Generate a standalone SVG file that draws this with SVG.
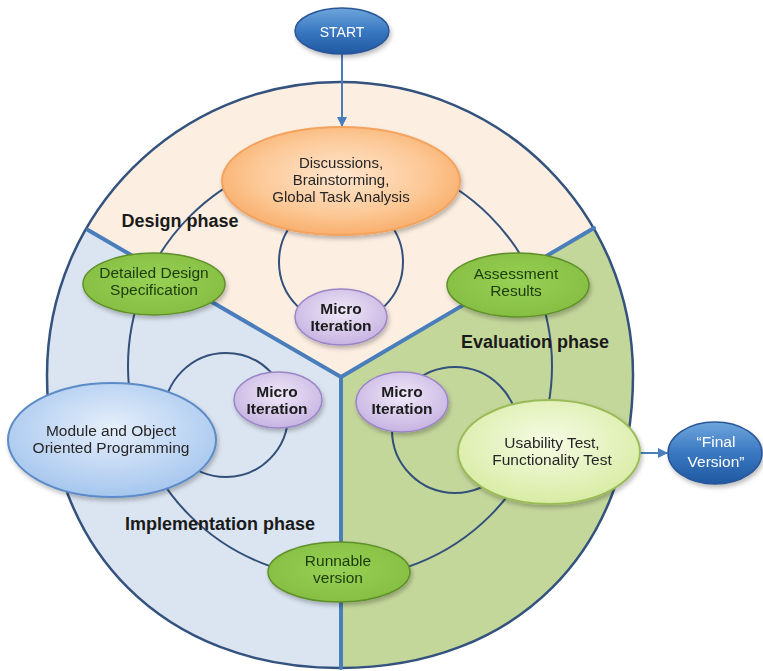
<svg xmlns="http://www.w3.org/2000/svg" width="763" height="671" viewBox="0 0 763 671">
<defs>
  <style>
    .lbl{font-family:"Liberation Sans",Arial,sans-serif;font-size:15.5px;fill:#262626;text-anchor:middle}
    .g{fill:#1c3a0c}
    .w{fill:#ffffff}
    .b{font-weight:bold;fill:#1a1a1a}
    .phase{font-family:"Liberation Sans",Arial,sans-serif;font-size:18px;font-weight:bold;fill:#1a1a1a;text-anchor:middle}
    .ring{fill:none;stroke:#33507a;stroke-width:2}
    .div{stroke:#4a7ebb;stroke-width:4;stroke-linecap:round}
    .arrow{stroke:#4a7ebb;stroke-width:2;fill:none}
    .green{fill:url(#gGreen);stroke:#5f8f2a;stroke-width:1.5}
    .micro{fill:url(#gMicro);stroke:#9a86c6;stroke-width:1.5}
    .dark{fill:url(#gDark);stroke:#2b5797;stroke-width:1.5}
    .node{filter:url(#sh)}
  </style>
  <filter id="sh" x="-20%" y="-20%" width="140%" height="150%">
    <feDropShadow dx="1.5" dy="3" stdDeviation="2" flood-color="#000" flood-opacity="0.25"/>
  </filter>
  <radialGradient id="gOrange" cx="50%" cy="45%" r="60%">
    <stop offset="0" stop-color="#fee6cf"/>
    <stop offset="0.6" stop-color="#fcc896"/>
    <stop offset="1" stop-color="#f8a962"/>
  </radialGradient>
  <radialGradient id="gGreen" cx="50%" cy="45%" r="60%">
    <stop offset="0" stop-color="#97d155"/>
    <stop offset="1" stop-color="#84bd40"/>
  </radialGradient>
  <radialGradient id="gMicro" cx="50%" cy="40%" r="60%">
    <stop offset="0" stop-color="#efe8f8"/>
    <stop offset="1" stop-color="#c7b3e2"/>
  </radialGradient>
  <radialGradient id="gModule" cx="50%" cy="40%" r="60%">
    <stop offset="0" stop-color="#e6effb"/>
    <stop offset="1" stop-color="#a6c6ee"/>
  </radialGradient>
  <radialGradient id="gUsab" cx="50%" cy="40%" r="60%">
    <stop offset="0" stop-color="#f6fbe4"/>
    <stop offset="1" stop-color="#d8eca4"/>
  </radialGradient>
  <linearGradient id="gDark" x1="0" y1="0" x2="0" y2="1">
    <stop offset="0" stop-color="#6ea6dc"/>
    <stop offset="0.5" stop-color="#3a78c2"/>
    <stop offset="1" stop-color="#1f58a0"/>
  </linearGradient>
  <clipPath id="outerClip">
    <path d="M47,375 C47,213.2 178.2,82 340,82 C501.8,82 633,213.2 633,375 C633,550.8 515.8,668 340,668 C164.2,668 47,550.8 47,375 Z"/>
  </clipPath>
  <marker id="ah" viewBox="0 0 10 10" refX="9" refY="5" markerWidth="5" markerHeight="5" orient="auto">
    <path d="M0,0 L10,5 L0,10 Z" fill="#4a7ebb"/>
  </marker>
</defs>

<g id="phases" clip-path="url(#outerClip)">
  <polygon id="design-region" points="341,377 -60,145 -60,-10 800,-10 800,105" fill="#fdeee2"/>
  <polygon id="impl-region" points="341,377 -60,145 -60,700 341,700" fill="#dbe5f1"/>
  <polygon id="eval-region" points="341,377 341,700 800,700 800,105" fill="#c4d79b"/>
</g>
<path id="outer" d="M47,375 C47,213.2 178.2,82 340,82 C501.8,82 633,213.2 633,375 C633,550.8 515.8,668 340,668 C164.2,668 47,550.8 47,375 Z" fill="none" stroke="#34527e" stroke-width="2.5"/>

<g id="connectors">
  <circle class="ring" cx="340" cy="366" r="212"/>
  <circle class="ring" cx="341" cy="262" r="62"/>
  <circle class="ring" cx="226" cy="415" r="62"/>
  <circle class="ring" cx="455" cy="430" r="63"/>
  <line class="div" x1="341" y1="377" x2="88" y2="230"/>
  <line class="div" x1="341" y1="377" x2="594" y2="228"/>
  <line class="div" x1="341" y1="377" x2="341" y2="668"/>
  <line class="arrow" x1="342" y1="54" x2="342" y2="126" marker-end="url(#ah)"/>
  <line class="arrow" x1="640" y1="453" x2="667" y2="453" marker-end="url(#ah)"/>
</g>

<g id="labels">
  <text class="phase" x="180" y="227">Design phase</text>
  <text class="phase" x="535" y="348">Evaluation phase</text>
  <text class="phase" x="220" y="530">Implementation phase</text>
</g>

<g id="start" class="node">
  <ellipse class="dark" cx="342" cy="31" rx="47" ry="23"/>
  <text class="lbl w" x="342" y="37" style="font-size:14px">START</text>
</g>

<g id="discussions" class="node">
  <ellipse cx="341" cy="181" rx="119" ry="54" fill="url(#gOrange)" stroke="#f4a35e" stroke-width="2"/>
  <text class="lbl" x="341" y="168" style="font-size:15px">Discussions,</text>
  <text class="lbl" x="341" y="185" style="font-size:15px">Brainstorming,</text>
  <text class="lbl" x="341" y="202" style="font-size:15px">Global Task Analysis</text>
</g>

<g id="design-spec" class="node">
  <ellipse class="green" cx="154" cy="284" rx="71" ry="31"/>
  <text class="lbl g" x="154" y="278">Detailed Design</text>
  <text class="lbl g" x="154" y="295">Specification</text>
</g>

<g id="assessment" class="node">
  <ellipse class="green" cx="518" cy="285" rx="71" ry="32"/>
  <text class="lbl g" x="516" y="279">Assessment</text>
  <text class="lbl g" x="516" y="296">Results</text>
</g>

<g id="micro-top" class="node">
  <ellipse class="micro" cx="341" cy="317" rx="46" ry="28"/>
  <text class="lbl b" x="341" y="314">Micro</text>
  <text class="lbl b" x="341" y="331">Iteration</text>
</g>

<g id="micro-left" class="node">
  <ellipse class="micro" cx="278" cy="400" rx="44" ry="28"/>
  <text class="lbl b" x="277" y="397">Micro</text>
  <text class="lbl b" x="277" y="414">Iteration</text>
</g>

<g id="micro-right" class="node">
  <ellipse class="micro" cx="402" cy="402" rx="46" ry="30"/>
  <text class="lbl b" x="402" y="397">Micro</text>
  <text class="lbl b" x="402" y="414">Iteration</text>
</g>

<g id="module" class="node">
  <ellipse cx="112" cy="440" rx="104" ry="57" fill="url(#gModule)" stroke="#5b8bc7" stroke-width="2"/>
  <text class="lbl" x="111" y="436">Module and Object</text>
  <text class="lbl" x="111" y="453">Oriented Programming</text>
</g>

<g id="usability" class="node">
  <ellipse cx="549" cy="452" rx="91" ry="52" fill="url(#gUsab)" stroke="#9bbb59" stroke-width="2"/>
  <text class="lbl" x="552" y="448">Usability Test,</text>
  <text class="lbl" x="552" y="465">Functionality Test</text>
</g>

<g id="final" class="node">
  <ellipse class="dark" cx="715" cy="453" rx="47" ry="31"/>
  <text class="lbl w" x="716" y="447">“Final</text>
  <text class="lbl w" x="716" y="467">Version”</text>
</g>

<g id="runnable" class="node">
  <ellipse class="green" cx="339" cy="572" rx="71" ry="30"/>
  <text class="lbl g" x="338" y="566">Runnable</text>
  <text class="lbl g" x="338" y="583">version</text>
</g>
</svg>
